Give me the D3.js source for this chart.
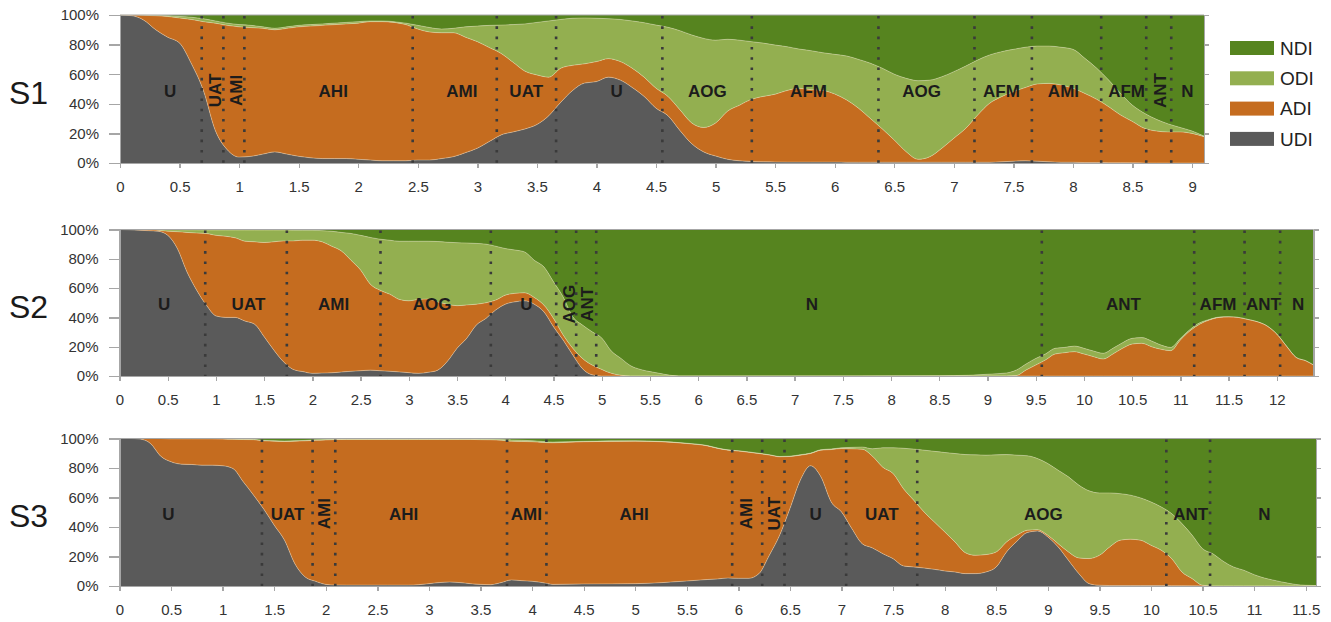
<!DOCTYPE html>
<html>
<head>
<meta charset="utf-8">
<script src="https://cdn.jsdelivr.net/npm/d3@7"></script>
<style>
  body { margin: 0; background: #fff; }
  svg { display: block; font-family: "Liberation Sans", Arial, sans-serif; }
  .axis path, .axis line { stroke: #a6a6a6; stroke-width: 1.3px; shape-rendering: crispEdges; }
  .axis text { fill: #333; font-size: 15px; }
</style>
</head>
<body>
<svg id="chart" width="1331" height="622"></svg>
<script>
// layer names, bottom to top
const keys = ["UDI", "ADI", "ODI", "NDI"]
const legendKeys = ["NDI", "ODI", "ADI", "UDI"]
const yTicks = [0, 20, 40, 60, 80, 100]

// ---- S1 ----
const s1Time = [0,0.1,0.2,0.3,0.4,0.5,0.6,0.7,0.8,0.9, 1,1.1,1.2,1.3,1.4,1.5,1.6,1.7,1.8,1.9,
  2,2.1,2.2,2.3,2.4,2.5,2.6,2.7,2.8,2.9, 3,3.1,3.2,3.3,3.4,3.5,3.6,3.7,3.8,3.9,
  4,4.1,4.2,4.3,4.4,4.5,4.6,4.7,4.8,4.9, 5,5.1,5.2,5.3,5.4,5.5,5.6,5.7,5.8,5.9,
  6,6.1,6.2,6.3,6.4,6.5,6.6,6.7,6.8,6.9, 7,7.1,7.2,7.3,7.4,7.5,7.6,7.7,7.8,7.9,
  8,8.1,8.2,8.3,8.4,8.5,8.6,8.7,8.8,8.9, 9,9.1]
const s1UDI = [100,99.5,96.5,90,85,81,67,49,22,9, 4,4.5,6,7.5,6,4.5,3.5,3,3,3,
  2.5,2,1.5,1.5,1.5,2,2,3,4.3,7, 10,14.5,19,21,23,26,32,41,49,54,
  55,58,56,51,45,37,32,22,13,7.5, 4.7,2.5,1.5,1,0.8,0.7,0.6,0.6,0.6,0.6,
  0.6,0.5,0.5,0.5,0.5,0.5,0.5,0.5,0.5,0.5, 0.5,0.5,0.5,0.5,0.8,1.2,1.5,1.2,0.8,0.5,
  0.5,0.3,0.3,0.2,0.2,0.1,0,0,0,0, 0,0]
const s1ADI = [0,0.5,3.3,9.5,14,17,30,46.5,72.5,84, 88,87,85,82.5,85,87.5,89,90,90.5,91,
  92,93.5,94,93.5,92,88.5,86.5,85,83.7,78, 72,63.5,55,47,39,33.5,26,23,17,13,
  13.5,12.5,12.5,13,13,13.5,13,14,14,16.5, 22.3,32.5,37.5,42,44.2,45.8,48.4,49.9,48.9,48.4,
  46,42.1,36.5,29.5,22.5,15,7.1,2,3.8,9.5, 16.2,22.9,31.9,39.8,44,47,49.5,52.2,53,52.2,
  50,46.7,42.7,37.8,32.2,27.9,23.4,21.6,21,21, 20,17.8]
const s1ODI = [0,0,0.2,0.3,0.5,1,1.5,2,1.5,1.5, 1.5,1.5,1,1,1,1,1,1,1,1,
  1,0.5,0.5,0.5,1,2.5,3,2.5,3,7, 10.5,15,19.2,25.5,32,35.5,38,33,31.8,31,
  29.3,27,28.5,32,36.8,42.7,46.7,53.4,59.5,60.2, 56,48.6,44,39,36,33.2,29.6,26.5,26.4,25.5,
  26.8,29.7,33,37.4,41,44.5,49.6,53.1,51.7,48.3, 45,42.1,37.2,32.7,30.4,28.6,27.2,25.6,25.2,25.5,
  26.3,23.7,21,18,14.6,11,10.2,7.9,5.4,3, 1.6,0.4]
const s1NDI = [0,0,0,0.2,0.5,1,1.5,2.5,4,5.5, 6.5,7,8,9,8,7,6.5,6,5.5,5,
  4.5,4,4,4.5,5.5,7,8.5,9.5,9,8, 7.5,7,6.8,6.5,6,5,4,3,2.2,2,
  2.2,2.5,3,4,5.2,6.8,8.3,10.6,13.5,15.8, 17,16.4,17,18,19,20.3,21.4,23,24.1,25.5,
  26.6,27.7,30,32.6,36,40,42.8,44.4,44,41.7, 38.3,34.5,30.4,27,24.8,23.2,21.8,21,21,21.8,
  23.2,29.3,36,44,53,61,66.4,70.5,73.6,76, 78.4,81.8]
const s1Ticks = [0,0.5,1,1.5,2,2.5,3,3.5,4,4.5,5,5.5,6,6.5,7,7.5,8,8.5,9]
const s1Bounds = [0.686,0.868,1.044,2.457,3.163,3.661,4.553,5.304,6.367,7.173,7.655,8.237,8.615,8.825]
const s1Labels = [["U",0.42],["UAT",0.8,1],["AMI",0.97,1],["AHI",1.79],["AMI",2.87],["UAT",3.41],
  ["U",4.17],["AOG",4.93],["AFM",5.78],["AOG",6.73],["AFM",7.4],["AMI",7.92],["AFM",8.45],
  ["ANT",8.73,1],["N",8.96]]

// ---- S2 ----
const s2Time = [0,0.1,0.2,0.3,0.4,0.5,0.6,0.7,0.8,0.9, 1,1.1,1.2,1.3,1.4,1.5,1.6,1.7,1.8,1.9,
  2,2.1,2.2,2.3,2.4,2.5,2.6,2.7,2.8,2.9, 3,3.1,3.2,3.3,3.4,3.5,3.6,3.7,3.8,3.9,
  4,4.1,4.2,4.3,4.4,4.5,4.6,4.7,4.8,4.9, 5,5.1,5.2,5.3,5.4,5.5,5.6,5.7,5.8,
  6,8.5,8.8,9,9.2,
  9.3,9.4,9.5,9.6,9.7,9.8,9.9,10,10.1,10.2, 10.3,10.4,10.5,10.6,10.7,10.8,10.9,11,11.1,11.2,
  11.3,11.4,11.5,11.6,11.7,11.8,11.9,12,12.1,12.2, 12.3,12.38]
const s2UDI = [100,99.8,99.5,99.2,98.8,96,87,71,58.6,48.4, 41,40,40,37.5,35.4,26.8,17.7,9.7,4.5,3,
  1.8,2,2.2,2.7,3.2,3.6,4,3.6,3.2,2.8, 2.3,1.8,2.5,4,10,18.9,25.7,34.8,39.3,45,
  49,50.6,51.3,49,43.8,33.6,24.5,14.3,5,0.8, 0,0,0,0,0,0,0,0,0,
  0,0,0,0,0,
  0,0,0,0,0,0,0,0,0,0, 0,0,0,0,0,0,0,0,0,0,
  0,0,0,0,0,0,0,0,0,0, 0,0]
const s2ADI = [0,0.2,0.5,0.8,0.7,2.8,11.5,27,39,48.9, 55,55.4,54.3,54.5,56.2,64.3,73.9,82.5,87.7,89.7,
  90.9,89.6,86.4,82.7,75.8,68.7,58.7,55,52.7,49.5, 49,50.5,50,46.5,39,29.1,22.8,14.2,10.7,6.8,
  6.2,5.8,5.5,4.6,4.6,5.7,3.5,4.6,7,6.7, 4.5,1.8,0.5,0,0,0,0,0,0,
  0,0,0,0,0,
  0.3,4.1,7.5,10.9,15,15.9,16.6,15,13.2,11.6, 15,18.9,21.8,22.3,20,18.2,17.3,24.6,30.9,35.4,
  38.2,40,40.4,40,38.6,37,34.1,28.6,20.4,12.7, 10.4,7.5]
const s2ODI = [0,0,0,0,0.5,1,1.3,1.7,2.1,2.3, 3.6,4.2,5.3,7.6,8,8.5,8,7.4,7.3,6.8,
  6.8,7.6,10.2,12.6,18.3,23.7,31.9,34.8,36.8,39.7, 40.7,39.7,39.5,41.3,42.3,43,42.3,41.5,40,36.8,
  31.8,29.6,27.9,25.4,26.1,25,26,21.5,22.8,22.7, 21.5,15.2,11.5,7,4.5,3,1.8,0.6,0,
  0,0.2,0.5,1.2,2.1,
  3.8,4.1,4.5,4.1,3.9,3.6,3.8,3.9,3.8,3.9, 3.9,3.8,3.9,3.9,3.9,2.9,2.2,1.1,0.9,0.9,
  0.4,0.2,0,0,0,0,0,0,0,0, 0,0]
const s2NDI = [0,0,0,0,0,0.2,0.2,0.3,0.3,0.4, 0.4,0.4,0.4,0.4,0.4,0.4,0.4,0.4,0.5,0.5,
  0.5,0.8,1.2,2,2.7,4,5.4,6.6,7.3,8, 8,8,8,8.2,8.7,9,9.2,9.5,10,11.4,
  13,14,15.3,21,25.5,35.7,46,59.6,65.2,69.8, 74,83,88,93,95.5,97,98.2,99.4,100,
  100,99.8,99.5,98.8,97.9,
  95.9,91.8,88,85,81.1,80.5,79.6,81.1,83,84.5, 81.1,77.3,74.3,73.8,76.1,78.9,80.5,74.3,68.2,63.7,
  61.4,59.8,59.6,60,61.4,63,65.9,71.4,79.6,87.3, 89.6,92.5]
const s2Ticks = [0,0.5,1,1.5,2,2.5,3,3.5,4,4.5,5,5.5,6,6.5,7,7.5,8,8.5,9,9.5,10,10.5,11,11.5,12]
const s2Bounds = [0.889,1.735,2.706,3.85,4.528,4.735,4.943,9.563,11.143,11.665,12.034]
const s2Labels = [["U",0.464],["UAT",1.337],["AMI",2.22],["AOG",3.24],["U",4.22],["AOG",4.655,1],
  ["ANT",4.846,1],["N",7.18],["ANT",10.41],["AFM",11.39],["ANT",11.86],["N",12.22]]

// ---- S3 ----
const s3Time = [0,0.1,0.2,0.3,0.4,0.5,0.6,0.7,0.8,0.9, 1,1.1,1.2,1.3,1.4,1.5,1.6,1.7,1.8,1.9,
  2,2.1, 2.2,2.4,2.6,2.8,
  2.9,3,3.1,3.2,3.3,3.4,3.5,3.6,3.7,3.8, 3.9,4,4.1,4.2,
  4.5,5,5.5,5.7,
  5.8,5.9, 6,6.1,6.2,6.3,6.4,6.5,6.6,6.7,6.8,6.9, 7,7.1,7.2,7.3,7.4,7.5,7.6,7.7,7.8,7.9,
  8,8.1,8.2,8.3,8.4,8.5,8.6,8.7,8.8,8.9, 9,9.1,9.2,9.3,9.4,9.5,9.6,9.7,9.8,9.9,
  10,10.1,10.2,10.3,10.4,10.5,10.6,10.7,10.8,10.9, 11,11.1,11.2,11.3,11.4,11.5,11.6]
const s3UDI = [100,100,99.6,96.6,88,84.2,82.6,82.4,81.9,81.9, 81.5,79.6,70.6,61.6,52,41.2,31,15.1,6.1,3.2,
  1.1,0.7, 0.6,0.6,0.6,0.6,
  0.9,1.6,2.3,2.7,2.3,1.6,1.1,0.9,2.3,4.1, 3.6,3.2,2.3,1.1,
  1.4,1.6,3.4,4.4,
  4.8,5.4, 5.2,5.2,8.4,20.8,34.4,52.5,71.7,81.5,74,57, 50.2,38.9,28.7,25.8,21.9,18.5,13.6,12.9,12.2,11.3,
  10.2,9.5,8.4,8.4,9.5,12.9,23.1,30.3,36.2,37.3, 33.3,26.5,17.4,8.4,1.6,0.5,0.3,0.3,0.3,0.3,
  0.3,0.3,0.2,0.2,0.1,0,0,0,0,0, 0,0,0,0,0,0,0]
const s3ADI = [0,0,0.4,3.4,12,15.6,17.2,17.4,17.9,17.9, 18.2,19.9,28.7,37.6,46.4,57,67,83.1,92.3,95.6,
  97.9,98.6, 98.8,98.8,98.8,98.8,
  98.5,97.8,97.1,96.7,97.1,97.8,98.1,98.2,96.5,94.1, 94.4,94.6,95,96,
  96.4,96.6,93.2,90.6,
  88.5,86.7, 86.3,85.5,81.4,68,53.2,35.3,17,8.3,18.1,35.5, 43,54.1,64,62.2,58.6,57.7,52.4,45.3,38,32.1,
  26.5,20.4,14.2,12.4,11.8,10.2,6.8,4.1,1.6,0.9, 1.1,2.2,5.7,10.6,17,20.3,26.2,30.7,31.4,30.7,
  27.3,23.9,18.4,9.3,4.9,0.5,0,0,0,0, 0,0,0,0,0,0,0]
const s3ODI = [0,0,0,0,0,0.1,0.1,0.1,0.1,0.1, 0.1,0.2,0.2,0.2,0.3,0.3,0.3,0.3,0.3,0.3,
  0.3,0.2, 0.2,0.2,0.2,0.2,
  0.2,0.2,0.2,0.2,0.2,0.2,0.3,0.4,0.6,0.8, 0.8,0.7,0.7,0.5,
  0.3,0.2,0.2,0.2,
  0.2,0.2, 0.2,0.2,0.2,0.2,0.2,0.2,0.3,0.3,0.3,0.4, 0.5,1,1.5,5,13.2,17.5,27.4,34.6,41.9,47.9,
  53.8,59.9,66.5,68.1,67.4,65.8,59.2,54.3,50.5,48.2, 48.6,49.8,50.9,49.4,45.9,42.3,36.6,31.6,29.9,28.7,
  29.4,29.4,30.5,32.8,29.4,24.8,21.9,16.8,12.9,10.7, 7.7,5.4,3.8,2.3,1.1,0.5,0.3]
const s3NDI = [0,0,0,0,0,0.1,0.1,0.1,0.1,0.1, 0.2,0.3,0.5,0.6,1.3,1.5,1.7,1.5,1.3,0.9,
  0.7,0.5, 0.4,0.4,0.4,0.4,
  0.4,0.4,0.4,0.4,0.4,0.4,0.5,0.5,0.6,1, 1.2,1.5,2,2.4,
  1.9,1.6,3.2,4.8,
  6.5,7.7, 8.3,9.1,10,11,12.2,12,11,9.9,7.6,7.1, 6.3,6,5.8,7,6.3,6.3,6.6,7.2,7.9,8.7,
  9.5,10.2,10.9,11.1,11.3,11.1,10.9,11.3,11.7,13.6, 17,21.5,26,31.6,35.5,36.9,36.9,37.4,38.4,40.3,
  43,46.4,50.9,57.7,65.6,74.7,78.1,83.2,87.1,89.3, 92.3,94.6,96.2,97.7,98.9,99.5,99.7]
const s3Ticks = [0,0.5,1,1.5,2,2.5,3,3.5,4,4.5,5,5.5,6,6.5,7,7.5,8,8.5,9,9.5,10,10.5,11,11.5]
const s3Bounds = [1.381,1.872,2.092,3.757,4.139,5.94,6.231,6.447,7.045,7.734,10.149,10.573]
const s3Labels = [["U",0.475],["UAT",1.63],["AMI",1.98,1],["AHI",2.755],["AMI",3.945],["AHI",4.99],
  ["AMI",6.07,1],["UAT",6.34,1],["U",6.75],["UAT",7.39],["AOG",8.956],["ANT",10.385],["N",11.1]]

const colors = { UDI: "#5a5a5a", ADI: "#c56c1f", ODI: "#93af50", NDI: "#56841f" }

const panels = [
  { name: "S1", time: s1Time, data: [s1UDI, s1ADI, s1ODI, s1NDI], xMax: 9.1, ticks: s1Ticks,
    bounds: s1Bounds, labels: s1Labels, left: 120, right: 1204, top: 15, bottom: 163 },
  { name: "S2", time: s2Time, data: [s2UDI, s2ADI, s2ODI, s2NDI], xMax: 12.38, ticks: s2Ticks,
    bounds: s2Bounds, labels: s2Labels, left: 119.5, right: 1313.5, top: 229.5, bottom: 376 },
  { name: "S3", time: s3Time, data: [s3UDI, s3ADI, s3ODI, s3NDI], xMax: 11.6, ticks: s3Ticks,
    bounds: s3Bounds, labels: s3Labels, left: 119.5, right: 1316, top: 438.5, bottom: 586 },
]

const svg = d3.select("#chart")

function drawPanel(p) {
  const x = d3.scaleLinear().domain([0, p.xMax]).range([p.left, p.right])
  const y = d3.scaleLinear().domain([0, 100]).range([p.bottom, p.top])
  const g = svg.append("g")

  const rows = p.time.map((t, i) => {
    const r = { t }
    keys.forEach((k, j) => r[k] = p.data[j][i])
    return r
  })
  const stacked = d3.stack().keys(keys).offset(d3.stackOffsetExpand)(rows)

  const area = d3.area()
    .x(d => x(d.data.t))
    .y0(d => y(d[0] * 100))
    .y1(d => y(d[1] * 100))
    .curve(d3.curveMonotoneX)

  g.selectAll("path.layer")
    .data(stacked)
    .join("path")
    .attr("class", "layer")
    .attr("fill", d => colors[d.key])
    .attr("d", area)

  // thin light edge on top of each layer
  const edge = d3.line()
    .x(d => x(d.data.t))
    .y(d => y(d[1] * 100))
    .curve(d3.curveMonotoneX)
  g.selectAll("path.edge")
    .data(stacked.slice(0, 3))
    .join("path")
    .attr("class", "edge")
    .attr("fill", "none")
    .attr("stroke", "rgba(255,240,210,0.45)")
    .attr("stroke-width", 0.8)
    .attr("d", edge)

  // top frame
  g.append("line")
    .attr("x1", p.left).attr("x2", p.right)
    .attr("y1", p.top).attr("y2", p.top)
    .attr("stroke", "#a6a6a6").attr("stroke-width", 1)

  // segment boundaries
  g.selectAll("line.bound")
    .data(p.bounds)
    .join("line")
    .attr("class", "bound")
    .attr("x1", d => x(d)).attr("x2", d => x(d))
    .attr("y1", p.top + 1).attr("y2", p.bottom)
    .attr("stroke", "#3a3a3a")
    .attr("stroke-width", 2.6)
    .attr("stroke-dasharray", "2.6,7.7")

  // segment labels
  const ly = y(49)
  g.selectAll("text.seg")
    .data(p.labels)
    .join("text")
    .attr("class", "seg")
    .attr("transform", d => `translate(${x(d[1])},${ly})` + (d[2] ? " rotate(-90)" : ""))
    .attr("text-anchor", "middle")
    .attr("dy", "0.36em")
    .attr("font-size", 17)
    .attr("font-weight", "bold")
    .attr("fill", "#1c1c1c")
    .text(d => d[0])

  // axes
  g.append("g")
    .attr("class", "axis")
    .attr("transform", `translate(${p.left},0)`)
    .call(d3.axisLeft(y).tickValues(yTicks).tickSize(11).tickSizeOuter(0).tickPadding(10)
      .tickFormat(d => d + "%"))

  g.append("g")
    .attr("class", "axis")
    .attr("transform", `translate(${p.right},0)`)
    .call(d3.axisRight(y).tickValues(yTicks).tickSize(5).tickSizeOuter(0).tickFormat(""))

  g.append("g")
    .attr("class", "axis")
    .attr("transform", `translate(0,${p.bottom})`)
    .call(d3.axisBottom(x).tickValues(p.ticks).tickSize(5).tickSizeOuter(0).tickPadding(13)
      .tickFormat(d3.format("")))

  // panel name
  svg.append("text")
    .attr("x", 9)
    .attr("y", (p.top + p.bottom) / 2 + 15)
    .attr("font-size", 32)
    .attr("fill", "#1a1a1a")
    .text(p.name)
}

panels.forEach(drawPanel)

// legend
const legend = svg.append("g").attr("transform", "translate(1230,41)")
legend.selectAll("rect")
  .data(legendKeys)
  .join("rect")
  .attr("x", 0).attr("y", (d, i) => i * 30.3)
  .attr("width", 44).attr("height", 14)
  .attr("fill", d => colors[d])
legend.selectAll("text")
  .data(legendKeys)
  .join("text")
  .attr("x", 50).attr("y", (d, i) => i * 30.3 + 7)
  .attr("dy", "0.36em")
  .attr("font-size", 19)
  .attr("fill", "#222")
  .text(d => d)
</script>
</body>
</html>
